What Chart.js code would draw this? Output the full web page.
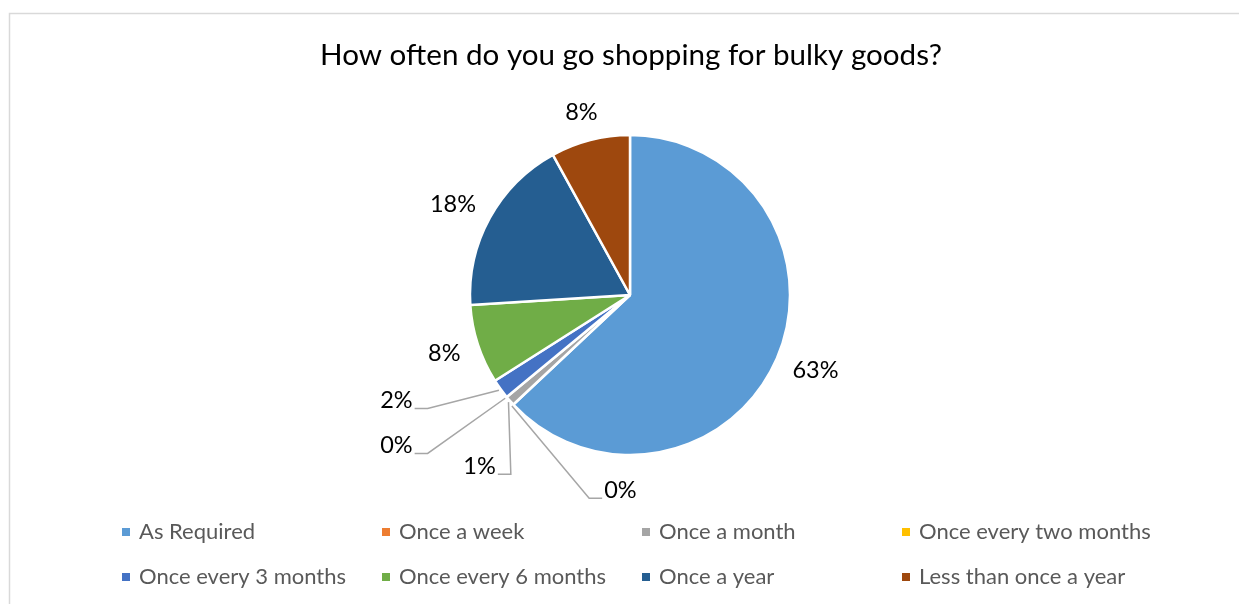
<!DOCTYPE html>
<html>
<head>
<meta charset="utf-8">
<title>Shopping frequency</title>
<script src="https://cdn.jsdelivr.net/npm/chart.js@4.4.1/dist/chart.umd.min.js"></script>
<style>
  html, body { margin: 0; padding: 0; background: #fff; }
  #wrap { width: 1239px; height: 604px; }
</style>
</head>
<body>
<div id="wrap"><canvas id="chart" width="1239" height="604"></canvas></div>
<script>
const chartTitle = "How often do you go shopping for bulky goods?";
const categories = [
  "As Required",
  "Once a week",
  "Once a month",
  "Once every two months",
  "Once every 3 months",
  "Once every 6 months",
  "Once a year",
  "Less than once a year",
];
const shares = [63, 0, 1, 0, 2, 8, 18, 8];
const sliceColors = [
  "#5B9BD5",
  "#ED7D31",
  "#A5A5A5",
  "#FFC000",
  "#4472C4",
  "#70AD47",
  "#255E91",
  "#9E480E",
];

const FONT = "Lato, 'Open Sans', sans-serif";

// tiny slices get their labels pulled out with a leader line
// (position given relative to the pie centre, in radii)
const calloutSpots = {
  1: { x: -0.06, y: 1.22 },
  2: { x: -0.94, y: 1.07 },
  3: { x: -1.46, y: 0.94 },
  4: { x: -1.46, y: 0.66 },
};

const frame = {
  id: "frame",
  beforeDraw(chart) {
    const ctx = chart.ctx;
    ctx.save();
    ctx.fillStyle = "#fff";
    ctx.fillRect(0, 0, chart.width, chart.height);
    ctx.strokeStyle = "#d9d9d9";
    ctx.lineWidth = 1.5;
    ctx.strokeRect(9.5, 13.5, chart.width + 20, chart.height + 20);
    ctx.fillStyle = "#000";
    ctx.font = "29.6px " + FONT;
    ctx.textAlign = "center";
    ctx.textBaseline = "middle";
    ctx.fillText(chartTitle, 631, 55);
    ctx.restore();
  },
};

const sliceLabels = {
  id: "sliceLabels",
  afterDatasetsDraw(chart) {
    const ctx = chart.ctx;
    const meta = chart.getDatasetMeta(0);
    const values = chart.data.datasets[0].data;
    const total = values.reduce((a, b) => a + b, 0);
    ctx.save();
    ctx.font = "23.5px " + FONT;
    ctx.textBaseline = "middle";
    ctx.textAlign = "center";
    meta.data.forEach((arc, i) => {
      const { x: cx, y: cy, outerRadius: r, startAngle, endAngle } = arc.getProps(
        ["x", "y", "outerRadius", "startAngle", "endAngle"], true);
      const mid = (startAngle + endAngle) / 2;
      const dx = Math.cos(mid), dy = Math.sin(mid);
      const text = Math.round((values[i] / total) * 100) + "%";
      const w = ctx.measureText(text).width;
      const h = 20;
      const spot = calloutSpots[i];
      if (!spot) {
        const d = r + 19;
        const lx = cx + dx * d + (dx * w) / 2;
        const ly = cy + dy * d + (dy * h) / 2;
        ctx.fillStyle = "#000";
        ctx.fillText(text, lx, ly);
        return;
      }
      const lx = cx + spot.x * r;
      const ly = cy + spot.y * r;
      const ax = cx + dx * (r + 2);
      const ay = cy + dy * (r + 2);
      const leftSide = lx < ax;
      const edge = leftSide ? lx + w / 2 + 2 : lx - w / 2 - 2;
      const elbow = leftSide ? edge + 13 : edge - 13;
      const lineY = ly + 8;
      ctx.strokeStyle = "#a6a6a6";
      ctx.lineWidth = 1.5;
      ctx.beginPath();
      ctx.moveTo(edge, lineY);
      ctx.lineTo(elbow, lineY);
      ctx.lineTo(ax, ay);
      ctx.stroke();
      ctx.fillStyle = "#000";
      ctx.fillText(text, lx, ly);
    });
    ctx.restore();
  },
};

const gridLegend = {
  id: "gridLegend",
  afterDraw(chart) {
    const ctx = chart.ctx;
    const labels = chart.data.labels;
    const colors = chart.data.datasets[0].backgroundColor;
    const cols = 4, colW = 260, left = 122, rowY = [532, 577], box = 8;
    ctx.save();
    ctx.font = "22px " + FONT;
    ctx.textBaseline = "middle";
    ctx.textAlign = "left";
    labels.forEach((label, i) => {
      const x = left + (i % cols) * colW;
      const y = rowY[Math.floor(i / cols)];
      ctx.fillStyle = colors[i];
      ctx.fillRect(x, y - box / 2, box, box);
      ctx.fillStyle = "#595959";
      ctx.fillText(label, x + 17, y);
    });
    ctx.restore();
  },
};

new Chart(document.getElementById("chart"), {
  type: "pie",
  data: {
    labels: categories,
    datasets: [
      {
        data: shares,
        backgroundColor: sliceColors,
        borderColor: "#fff",
        borderWidth: 2.5,
      },
    ],
  },
  options: {
    responsive: false,
    animation: false,
    radius: 160,
    layout: { padding: { top: 135, bottom: 149, left: 470, right: 449 } },
    plugins: {
      legend: { display: false },
      tooltip: { enabled: false },
      title: { display: false },
    },
  },
  plugins: [frame, sliceLabels, gridLegend],
});
</script>
</body>
</html>
